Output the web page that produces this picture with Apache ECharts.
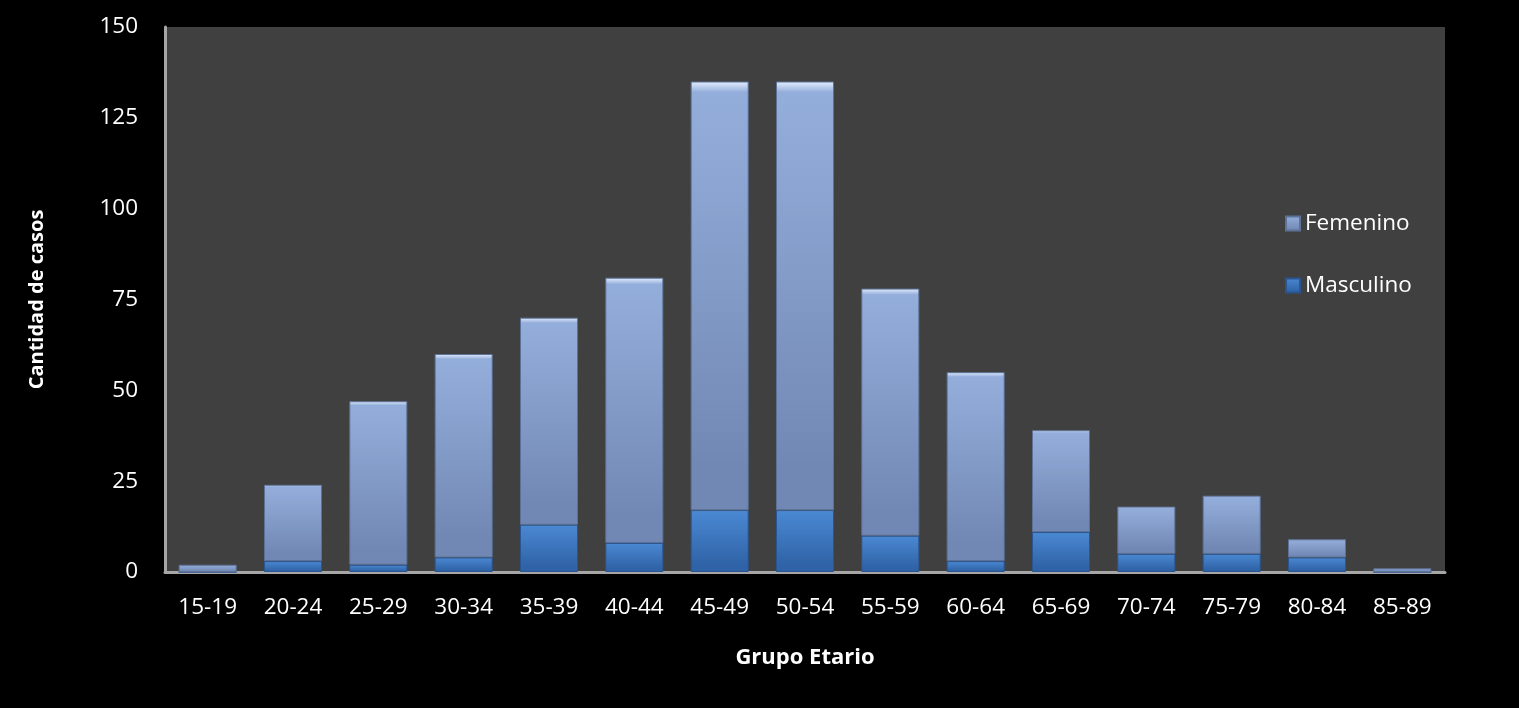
<!DOCTYPE html>
<html>
<head>
<meta charset="utf-8">
<script src="https://cdn.jsdelivr.net/npm/echarts@6/dist/echarts.min.js"></script>
<style>
  html, body { margin: 0; padding: 0; background: #000; }
  #chart { width: 1519px; height: 708px; }
</style>
</head>
<body>
<div id="chart"></div>
<script>
// grupos etarios
const categorias = ['15-19', '20-24', '25-29', '30-34', '35-39', '40-44', '45-49', '50-54',
  '55-59', '60-64', '65-69', '70-74', '75-79', '80-84', '85-89'];
const masculino = [0, 3, 2, 4, 13, 8, 17, 17, 10, 3, 11, 5, 5, 4, 0];
const femenino = [2, 21, 45, 56, 57, 73, 118, 118, 68, 52, 28, 13, 16, 5, 1];
const yTicks = [0, 25, 50, 75, 100, 125, 150];

const font = '"Open Sans", sans-serif';

function grad(top, mid, bottom) {
  return new echarts.graphic.LinearGradient(0, 0, 0, 1, [
    { offset: 0, color: top },
    { offset: 0.025, color: mid },
    { offset: 0.9, color: bottom },
    { offset: 1, color: bottom }
  ]);
}

let myChart = echarts.init(document.getElementById('chart'));
let option = {
  backgroundColor: '#000000',
  animation: false,
  grid: {
    left: 165, right: 74, top: 27, bottom: 136,
    show: true, backgroundColor: '#404040', borderWidth: 0
  },
  legend: {
    data: ['Femenino', 'Masculino'],
    orient: 'vertical',
    left: 1280, top: 207,
    icon: 'rect',
    itemWidth: 14, itemHeight: 14, itemGap: 39,
    textStyle: { color: '#ffffff', fontSize: 22.5, fontFamily: font }
  },
  xAxis: {
    type: 'category',
    data: categorias,
    name: 'Grupo Etario',
    nameLocation: 'middle',
    nameGap: 75,
    nameTextStyle: { color: '#ffffff', fontSize: 22, fontWeight: 'bold', fontFamily: font },
    axisLine: { lineStyle: { color: '#a6a6a6', width: 3 } },
    axisTick: { show: false },
    axisLabel: { color: '#ffffff', fontSize: 22.5, fontFamily: font, margin: 24 }
  },
  yAxis: {
    type: 'value',
    min: yTicks[0], max: yTicks[yTicks.length - 1], interval: 25,
    name: 'Cantidad de casos',
    nameLocation: 'middle',
    nameGap: 118,
    nameRotate: 90,
    nameTextStyle: { color: '#ffffff', fontSize: 20, fontWeight: 'bold', fontFamily: font },
    axisLine: { show: true, lineStyle: { color: '#a6a6a6', width: 3 } },
    axisTick: { show: false },
    splitLine: { show: false },
    axisLabel: { color: '#ffffff', fontSize: 22.5, fontFamily: font, margin: 27 }
  },
  series: [
    {
      name: 'Masculino',
      type: 'bar',
      stack: 'total',
      barCategoryGap: '32%',
      data: masculino,
      itemStyle: {
        color: grad('#8cc0ff', '#4a88d2', '#2f62a6'),
        borderColor: '#2a5590', borderWidth: 1
      }
    },
    {
      name: 'Femenino',
      type: 'bar',
      stack: 'total',
      barCategoryGap: '32%',
      data: femenino,
      itemStyle: {
        color: grad('#e4efff', '#94aedb', '#7288b4'),
        borderColor: '#5e7298', borderWidth: 1
      }
    }
  ]
};
option && myChart.setOption(option);
</script>
</body>
</html>
